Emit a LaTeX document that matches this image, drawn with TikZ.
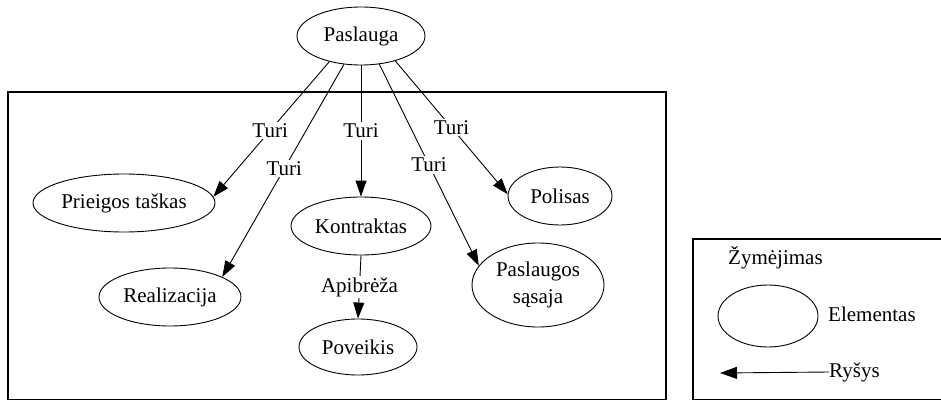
\documentclass[tikz,border=0pt]{standalone}
\usepackage{fontspec}
\setmainfont{Liberation Serif}
\usetikzlibrary{shapes.geometric,arrows.meta}
\begin{document}
\begin{tikzpicture}[x=1pt,y=-1pt,
  el/.style={draw,ellipse,inner sep=0pt,line width=0.9pt,font=\fontsize{21}{27}\selectfont},
  conn/.style={line width=0.9pt,-{Triangle[length=16pt,width=11pt]}},
  lbl/.style={fill=white,inner sep=1.5pt,font=\fontsize{21}{24}\selectfont},
  txt/.style={inner sep=0pt,font=\fontsize{21}{24}\selectfont},
  frame/.style={draw,line width=1.3pt}]
\useasboundingbox (0,0) rectangle (941,401);
\clip (0,0) rectangle (941,401);
\fill[white] (0,0) rectangle (941,401);
% frames
\draw[frame] (8,92) rectangle (666,399.5);
\draw[frame] (693,239) rectangle (960,399.5);
% nodes
\node[el,minimum width=128pt,minimum height=58pt] (pa) at (361,36) {Paslauga};
\node[el,minimum width=182pt,minimum height=58pt] (pt) at (124,203) {Prieigos taškas};
\node[el,minimum width=142pt,minimum height=58pt] (re) at (170,297) {Realizacija};
\node[el,minimum width=140pt,minimum height=58pt] (ko) at (361,226) {Kontraktas};
\node[el,minimum width=118pt,minimum height=56pt] (pv) at (358,347) {Poveikis};
\node[el,minimum width=104pt,minimum height=58pt] (po) at (560,196) {Polisas};
\node[el,minimum width=132pt,minimum height=84pt,align=center] (ps) at (538,285) {Paslaugos\\sąsaja};
% connectors
\draw[conn] (pa.219) -- node[lbl,pos=0.51] {Turi} (pt.4);
\draw[conn] (pa.239) -- node[lbl,pos=0.49] {Turi} (re.21);
\draw[conn] (pa.south) -- node[lbl,pos=0.5] {Turi} (ko.north);
\draw[conn] (pa.303) -- node[lbl,pos=0.5] {Turi} (ps.162);
\draw[conn] (pa.324) -- node[lbl,pos=0.5] {Turi} (po.178);
\draw[conn] (ko.south) -- node[lbl,pos=0.5] {Apibrėža} (pv.north);
% legend
\node[txt,anchor=west] (zy) at (728,258) {Žymėjimas};
\node[el,minimum width=100pt,minimum height=62pt] (le) at (768,316) {};
\node[txt,anchor=west] (elm) at (828,314) {Elementas};
\node[txt,anchor=west] (ry) at (829,372) {Ryšys};
\coordinate (tip) at (720,373);
\draw[line width=0.9pt,-{Triangle[length=17pt,width=12pt]}] (ry.west) -- (tip);
\end{tikzpicture}
\end{document}
